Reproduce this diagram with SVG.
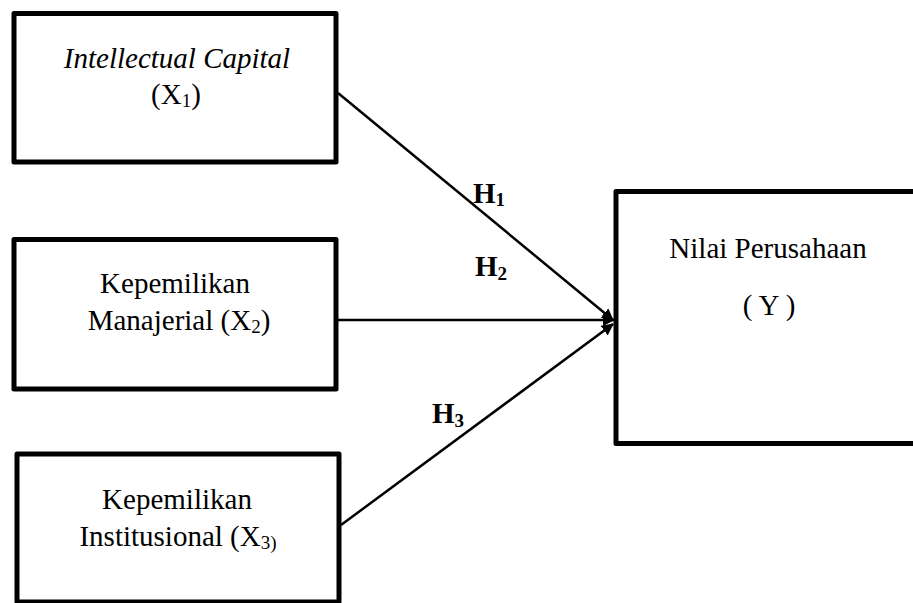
<svg xmlns="http://www.w3.org/2000/svg" width="913" height="603" viewBox="0 0 913 603">
<style>
.box{fill:#fff;stroke:#000;stroke-width:5;stroke-linejoin:round}
.t{font-family:"Liberation Serif","Times New Roman",serif;font-size:29px;fill:#000;text-anchor:middle}
.h{font-family:"Liberation Serif","Times New Roman",serif;font-size:29px;font-weight:bold;fill:#000}
.sub{font-size:19px}
.con{stroke:#000;stroke-width:2.5;fill:none}
</style>
<defs>
<marker id="ah" markerWidth="12" markerHeight="12" refX="11" refY="6" orient="auto" markerUnits="userSpaceOnUse">
<path d="M0,0 L12,6 L0,12 Z" fill="#000"/>
</marker>
</defs>
<g id="x1">
<rect class="box" x="14" y="13.5" width="322" height="148.5"/>
<text class="t" x="177" y="68" font-style="italic">Intellectual Capital</text>
<text class="t" x="176" y="104">(X<tspan class="sub" dy="3">1</tspan><tspan dy="-3">)</tspan></text>
</g>
<g id="x2">
<rect class="box" x="14" y="239.5" width="322" height="149.5"/>
<text class="t" x="175" y="293">Kepemilikan</text>
<text class="t" x="179" y="330">Manajerial (X<tspan class="sub" dy="3">2</tspan><tspan dy="-3">)</tspan></text>
</g>
<g id="x3">
<rect class="box" x="17" y="454" width="322" height="148"/>
<text class="t" x="177" y="509">Kepemilikan</text>
<text class="t" x="178" y="546">Institusional (X<tspan class="sub" dy="3">3)</tspan></text>
</g>
<g id="y">
<rect class="box" x="616" y="191.5" width="320" height="252"/>
<text class="t" x="768" y="258">Nilai Perusahaan</text>
<text class="t" x="769" y="315">( Y )</text>
</g>
<g id="connectors">
<line class="con" x1="338" y1="93" x2="613" y2="320" marker-end="url(#ah)"/>
<line class="con" x1="338" y1="320" x2="614" y2="320" marker-end="url(#ah)"/>
<line class="con" x1="341" y1="525" x2="613" y2="324" marker-end="url(#ah)"/>
</g>
<g id="labels">
<text class="h" x="473" y="203">H<tspan class="sub" dy="3">1</tspan></text>
<text class="h" x="475" y="276">H<tspan class="sub" dy="4">2</tspan></text>
<text class="h" x="432" y="423">H<tspan class="sub" dy="4">3</tspan></text>
</g>
</svg>
